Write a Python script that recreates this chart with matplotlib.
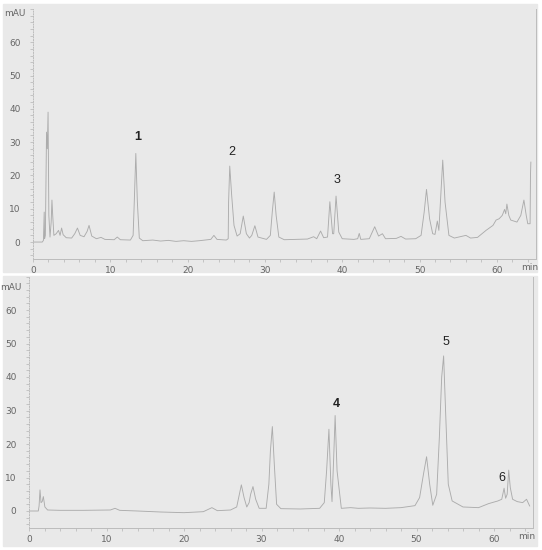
#!/usr/bin/env python3

import matplotlib
matplotlib.use("Agg")
import matplotlib.pyplot as plt
from matplotlib.patches import Rectangle
from matplotlib.ticker import MultipleLocator
import matplotlib.transforms as mtransforms

OUT_PNG = "out.png"

# chromatogram 1 (upper): time [min], signal [mAU]
top_t = [0, 1.2, 1.35, 1.45, 1.5, 1.6, 1.75, 1.85, 1.95, 2.05, 2.2, 2.35, 2.45, 2.55, 2.7,
         3.0, 3.3, 3.5, 3.7, 3.9, 4.3, 5.0, 5.4, 5.75, 6.1, 6.6, 7.0, 7.25, 7.6, 8.2, 8.8,
         9.3, 10.5, 10.9, 11.3, 12.6, 12.95, 13.1, 13.3, 13.5, 13.75, 14.2, 15.5, 16.5, 17.5,
         18.5, 19.5, 20.5, 21.5, 23.0, 23.4, 23.8, 25.0, 25.25, 25.3, 25.45, 25.7, 26.0, 26.4,
         26.8, 27.2, 27.6, 28.0, 28.3, 28.7, 29.1, 30.2, 30.7, 30.95, 31.2, 31.45, 31.8, 32.5,
         34.0, 35.5, 36.3, 36.7, 37.2, 37.6, 38.1, 38.4, 38.75, 38.9, 39.2, 39.55, 40.0, 41.5,
         42.0, 42.2, 42.4, 43.5, 44.2, 44.7, 45.2, 45.6, 47.0, 47.6, 48.2, 49.5, 50.2, 50.6,
         50.9, 51.3, 51.7, 52.0, 52.3, 52.5, 52.75, 53.0, 53.3, 53.8, 54.5, 56.0, 56.6, 57.5,
         58.6, 59.5, 59.9, 60.3, 60.7, 61.0, 61.15, 61.3, 61.55, 61.8, 62.6, 63.1, 63.5, 63.8,
         64.0, 64.3, 64.35, 64.4]
top_mau = [0, 0, 0.5, 9, 1, 2, 33, 28, 39, 8, 1.5, 6, 12.6, 8, 2,
           2.5, 3.5, 2, 4.2, 2.2, 1.3, 1.2, 2.5, 4.2, 2, 1.6, 3.2, 5.0, 1.8, 1.0, 1.4,
           0.8, 0.7, 1.5, 0.7, 0.6, 2, 12, 26.6, 12, 1.2, 0.4, 0.6, 0.3, 0.5,
           0.2, 0.4, 0.2, 0.4, 0.8, 2, 0.8, 0.6, 1, 12, 22.8, 14, 5, 1.8,
           2.5, 7.8, 2.5, 1.2, 2, 4.9, 1.5, 0.8, 2, 9, 15, 8, 1.5, 0.7,
           0.8, 0.9, 1.6, 1.0, 3.3, 1.3, 1.5, 12.1, 2.5, 2.5, 13.8, 3, 1.0, 0.8,
           1, 2.6, 0.8, 1.0, 4.6, 1.8, 2.5, 1, 1.1, 1.7, 0.9, 1, 2, 9,
           15.8, 7, 2.5, 2.3, 6.3, 3.5, 14, 24.6, 12, 2.0, 1.2, 2.0, 1.2, 1.4,
           3.5, 5, 6.6, 7, 8, 9.8, 8.5, 11.4, 8, 6.6, 6, 8, 12.6, 8,
           5.5, 5.5, 20, 24]

# chromatogram 2 (lower)
bot_t = [0, 1.2, 1.3, 1.42, 1.55, 1.7, 1.85, 2.05, 2.4, 4.0, 7.0, 10.5, 11.1, 11.7, 14.0,
         17.0, 20.0, 22.5, 23.6, 24.3, 26.0, 26.8, 27.1, 27.4, 27.75, 28.1, 28.4, 28.6, 28.9,
         29.25, 29.7, 30.6, 30.95, 31.15, 31.4, 31.65, 31.95, 32.5, 35.0, 37.5, 38.1, 38.4,
         38.7, 38.95, 39.1, 39.3, 39.5, 39.75, 40.3, 41.5, 42.5, 44.0, 46.0, 48.0, 49.8, 50.4,
         50.9, 51.3, 51.7, 52.1, 52.6, 52.95, 53.25, 53.5, 53.75, 54.1, 54.6, 56.0, 58.0, 59.3,
         60.5, 61.0, 61.3, 61.5, 61.7, 61.9, 62.1, 62.4, 63.0, 63.7, 64.2, 64.6]
bot_mau = [0, 0, 1.5, 6.3, 2.5, 2.8, 4.3, 1.2, 0.3, 0.2, 0.2, 0.3, 0.8, 0.2, 0.0,
           -0.3, -0.5, -0.2, 1.0, 0.1, 0.3, 1.2, 4.5, 7.8, 4.0, 1.2, 2.5, 5.0, 7.3,
           3.5, 0.8, 0.8, 8, 18, 25.2, 14, 2.0, 0.7, 0.6, 0.8, 2.5, 12,
           24.4, 8, 2.8, 15, 28.5, 12, 0.8, 1.0, 0.8, 0.9, 0.8, 1.0, 1.6, 4.0,
           11, 16.2, 8, 1.7, 5, 22, 40, 46.3, 30, 8, 3.0, 1.2, 1.0, 2.2,
           3.0, 3.5, 6.8, 3.8, 5, 12.2, 7, 3.5, 2.8, 2.5, 3.5, 1.5]

# peak numbers
top_lbl_t = [13.6, 25.7, 39.3]
top_lbl_y = [31.5, 27.1, 18.6]
top_lbl_s = ["1", "2", "3"]
bot_lbl_t = [39.6, 53.8, 61.0]
bot_lbl_y = [31.9, 50.5, 9.8]
bot_lbl_s = ["4", "5", "6"]

y_ticks = [0, 10, 20, 30, 40, 50, 60]
x_ticks = [0, 10, 20, 30, 40, 50, 60]

W, H = 542, 550
PANEL = "#e9e9e9"
TRACE = "#acacac"
TXT = "#666666"


def px(x0, y0, w, h):
    # pixel box (top-left origin) -> figure fraction
    return [x0 / W, 1 - (y0 + h) / H, w / W, h / H]


def chrom(ax, t, y, lbl_t, lbl_y, lbl_s, lbl_weights, unit_y):
    ax.plot(t, y, color=TRACE, lw=0.65)
    for xx, yy, s, fw in zip(lbl_t, lbl_y, lbl_s, lbl_weights):
        ax.text(xx, yy, s, ha="center", va="center", fontsize=9,
                color="#222222", fontweight=fw, family="Liberation Sans")
    ax.set_xlim(0, 65)
    ax.set_ylim(-5, 70)
    ax.set_facecolor("none")
    ax.set_yticks(y_ticks)
    ax.set_xticks(x_ticks)
    ax.xaxis.set_minor_locator(MultipleLocator(2))
    ax.yaxis.set_minor_locator(MultipleLocator(2))
    ax.tick_params(which="both", colors="#b4b4b4", labelcolor=TXT, labelsize=6.5,
                   length=2, width=0.5)
    ax.tick_params(axis="y", pad=7)
    ax.tick_params(axis="x", pad=3)
    ax.spines["top"].set_visible(False)
    ax.spines["left"].set_linestyle(":")
    for s in ["left", "bottom", "right"]:
        ax.spines[s].set_color("#bcbcbc")
        ax.spines[s].set_linewidth(0.7)
    trans = mtransforms.blended_transform_factory(ax.transAxes, ax.transData)
    ax.text(-0.015, unit_y, "mAU", transform=trans, ha="right", va="center",
            fontsize=6.5, color=TXT)
    off = mtransforms.ScaledTranslation(0, -3 / 72, ax.figure.dpi_scale_trans)
    ax.text(64.2, -5, "min", ha="center", va="top", fontsize=6.5, color=TXT,
            transform=ax.transData + off)


fig = plt.figure(figsize=(W / 100, H / 100), dpi=100, facecolor="white")

# grey screenshot panels behind both charts
fig.patches.append(Rectangle((3 / W, 1 - 272 / H), 534 / W, 268 / H,
                             transform=fig.transFigure, color=PANEL, zorder=-10))
fig.patches.append(Rectangle((3 / W, 1 - 546 / H), 534 / W, 270 / H,
                             transform=fig.transFigure, color=PANEL, zorder=-10))

ax1 = fig.add_axes(px(33, 8.9, 502.5, 249.8))
chrom(ax1, top_t, top_mau, top_lbl_t, top_lbl_y, top_lbl_s,
      ["bold", "normal", "normal"], 68.5)

ax2 = fig.add_axes(px(29, 276.5, 503.75, 251.25))
chrom(ax2, bot_t, bot_mau, bot_lbl_t, bot_lbl_y, bot_lbl_s,
      ["bold", "normal", "normal"], 66.6)

plt.savefig(OUT_PNG, dpi=100)
plt.close()
